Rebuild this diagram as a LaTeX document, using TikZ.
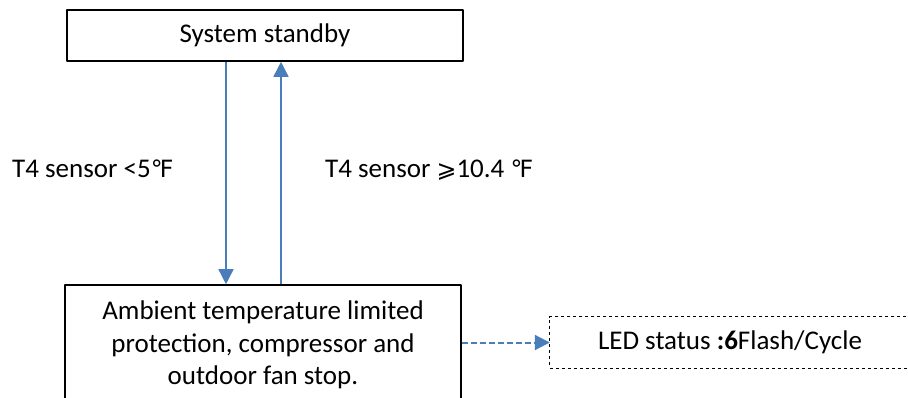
\documentclass[tikz,border=0pt]{standalone}
\usepackage{fontspec}
\setmainfont{Carlito}
\newfontfamily\symfont[Scale=0.88]{DejaVu Sans}
\usetikzlibrary{arrows.meta}
\definecolor{arrowblue}{HTML}{4A7EBB}
\begin{document}
\begin{tikzpicture}[x=1pt, y=-1pt, font=\fontsize{27}{32.5}\selectfont, line join=round, >={Triangle[length=15pt, width=15pt]},
	box/.style={draw, line width=1.6pt, align=center, inner sep=0pt},
	flow/.style={arrowblue, line width=1.6pt}]
	\useasboundingbox (0,0) rectangle (908,398);
	\clip (0,0) rectangle (908,398);
	\node[box, minimum width=396pt, minimum height=51pt] (standby) at (265,35.5) {System standby};
	\node[box, minimum width=396pt, minimum height=120pt] (protect) at (263,345) {Ambient temperature limited\\protection, compressor and\\outdoor fan stop.};
	\node[minimum width=360pt, minimum height=51pt, inner sep=0pt] (led) at (730,342.5) {LED status \textbf{:6}Flash/Cycle};
	% right side of the dashed box lies past the page edge
	\draw[dashed, line width=1pt] ([xshift=20pt]led.north east) -- (led.north west) -- (led.south west) -- ([xshift=20pt]led.south east);
	\coordinate (dn) at (226,0);
	\coordinate (up) at (281,0);
	\draw[flow, ->] (standby.south -| dn) -- (protect.north -| dn);
	\draw[flow, ->] (protect.north -| up) -- (standby.south -| up);
	\draw[flow, line width=2pt, dash pattern=on 6pt off 3pt, ->] (protect.east |- led.west) -- (led.west);
	\node[anchor=west, inner sep=0pt] (cold) at (12,169) {T4 sensor <5{\symfont ℉}};
	\node[anchor=west, inner sep=0pt] (warm) at (325,170) {T4 sensor {\symfont ⩾}10.4 {\symfont ℉}};
\end{tikzpicture}
\end{document}
